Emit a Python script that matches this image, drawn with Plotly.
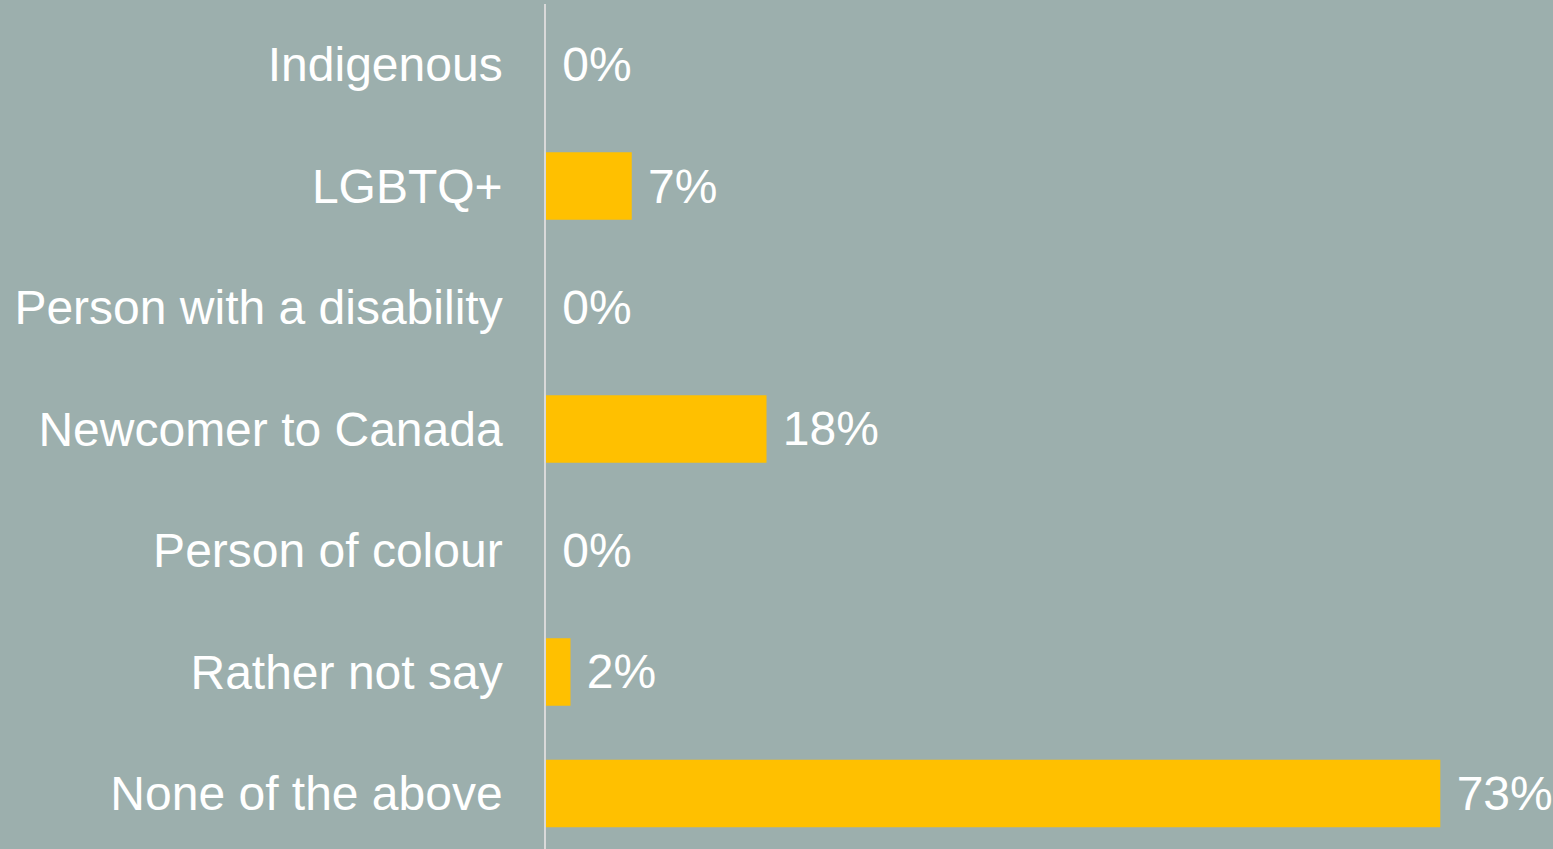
import plotly.graph_objects as go

# categorias y porcentajes
grupos = ["Indigenous", "LGBTQ+", "Person with a disability", "Newcomer to Canada",
          "Person of colour", "Rather not say", "None of the above"]
porcentajes = [0, 7, 0, 18, 0, 2, 73]
etiquetas = [" " + str(p) + "%" for p in porcentajes]

fondo = "#9CAFAD"
dorado = "#FFC000"
letra = "Liberation Sans, Arial"

fig = go.Figure(go.Bar(
    x=porcentajes,
    y=grupos,
    orientation="h",
    marker=dict(color=dorado, line=dict(width=0)),
    text=etiquetas,
    textposition="outside",
    textfont=dict(color="white", size=48, family=letra),
    constraintext="none",
    cliponaxis=False,
    hoverinfo="skip",
))

fig.update_layout(
    width=1553,
    height=849,
    paper_bgcolor=fondo,
    plot_bgcolor=fondo,
    margin=dict(l=546, r=0, t=4, b=0),
    bargap=0.444,
    showlegend=False,
    font=dict(family=letra, color="white", size=48),
)

fig.update_xaxes(range=[0, 82.2], visible=False, showgrid=False, zeroline=False)
fig.update_yaxes(
    type="category",
    categoryorder="array",
    categoryarray=grupos,
    range=[6.457, -0.498],
    showline=True,
    linecolor="#D9D9D9",
    linewidth=1.5,
    showgrid=False,
    zeroline=False,
    ticks="",
    ticklabelstandoff=32,
    tickfont=dict(color="white", size=48, family=letra),
)

# quitamos el margen blanco de la pagina y la barra de herramientas
fig.write_html(
    "out.html",
    config={"displayModeBar": False},
    post_script="document.body.style.margin='0';document.body.style.background='" + fondo + "';",
)
